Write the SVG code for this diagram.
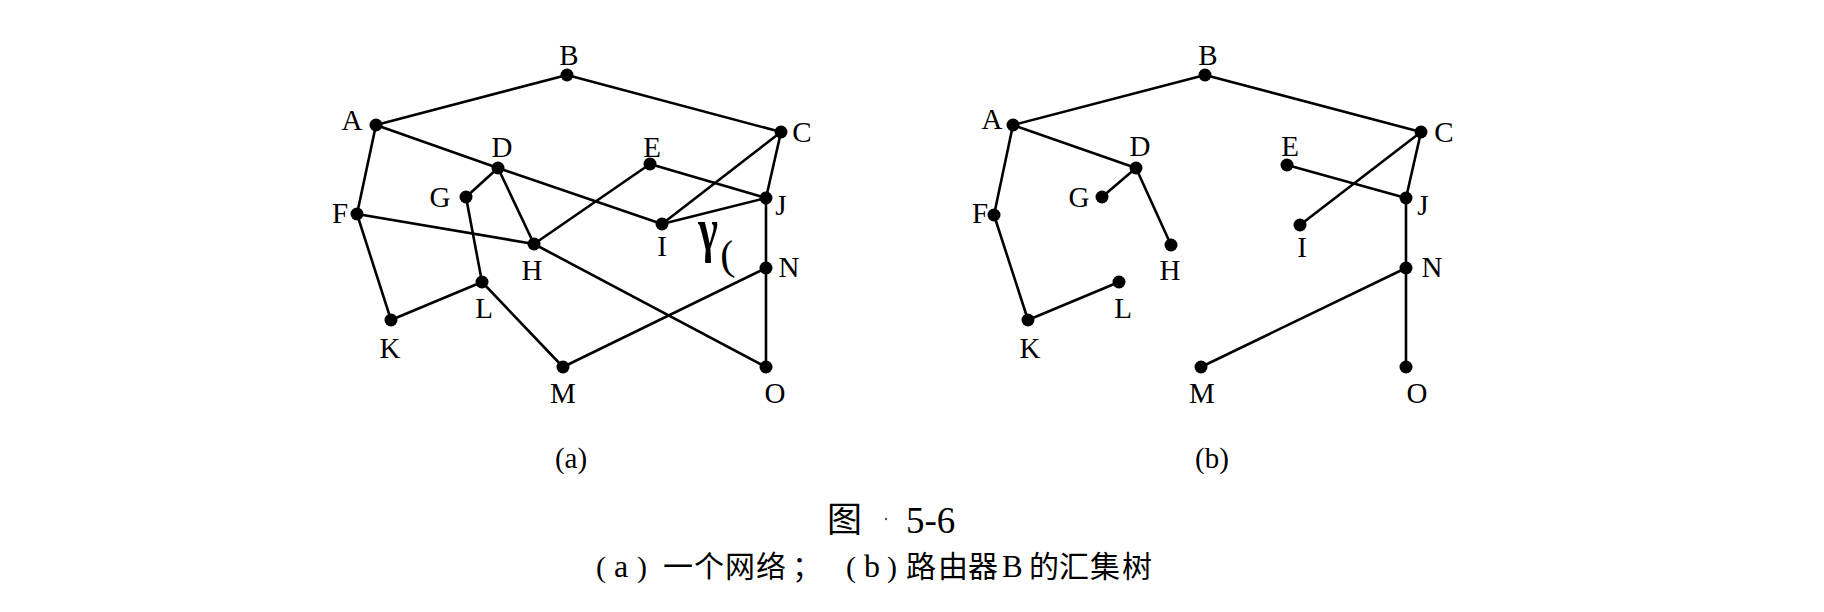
<svg xmlns="http://www.w3.org/2000/svg" width="1824" height="612" viewBox="0 0 1824 612">
<style>
.e{stroke:#000;stroke-width:2.6;fill:none;stroke-linecap:round}
.d{fill:#000}
.l{font-family:"Liberation Serif","Times New Roman",serif;font-size:29px;fill:#000;text-anchor:middle}
.s{font-family:"Liberation Serif","Times New Roman",serif;fill:#000}
.cjk{font-family:"Noto Sans CJK SC",sans-serif;fill:#000}
</style>
<rect width="1824" height="612" fill="#fff"/>
<g id="connectors-a">
<line class="e" x1="376" y1="125" x2="567" y2="75"/>
<line class="e" x1="567" y1="75" x2="781" y2="132"/>
<line class="e" x1="376" y1="125" x2="357" y2="214"/>
<line class="e" x1="376" y1="125" x2="498" y2="168"/>
<line class="e" x1="498" y1="168" x2="662" y2="224"/>
<line class="e" x1="498" y1="168" x2="466" y2="197"/>
<line class="e" x1="498" y1="168" x2="534" y2="244"/>
<line class="e" x1="466" y1="197" x2="482" y2="282"/>
<line class="e" x1="357" y1="214" x2="534" y2="244"/>
<line class="e" x1="357" y1="214" x2="391" y2="320"/>
<line class="e" x1="534" y1="244" x2="650" y2="164"/>
<line class="e" x1="534" y1="244" x2="766" y2="367"/>
<line class="e" x1="650" y1="164" x2="766" y2="198"/>
<line class="e" x1="781" y1="132" x2="662" y2="224"/>
<line class="e" x1="781" y1="132" x2="766" y2="198"/>
<line class="e" x1="662" y1="224" x2="766" y2="198"/>
<line class="e" x1="766" y1="198" x2="766" y2="268"/>
<line class="e" x1="766" y1="268" x2="766" y2="367"/>
<line class="e" x1="766" y1="268" x2="563" y2="367"/>
<line class="e" x1="482" y1="282" x2="563" y2="367"/>
<line class="e" x1="391" y1="320" x2="482" y2="282"/>
</g>
<g id="connectors-b">
<line class="e" x1="1013" y1="125" x2="1205" y2="75"/>
<line class="e" x1="1205" y1="75" x2="1421" y2="132"/>
<line class="e" x1="1013" y1="125" x2="994" y2="215"/>
<line class="e" x1="1013" y1="125" x2="1136" y2="168"/>
<line class="e" x1="1136" y1="168" x2="1102" y2="197"/>
<line class="e" x1="1136" y1="168" x2="1171" y2="245"/>
<line class="e" x1="994" y1="215" x2="1028" y2="320"/>
<line class="e" x1="1028" y1="320" x2="1119" y2="282"/>
<line class="e" x1="1421" y1="132" x2="1300" y2="225"/>
<line class="e" x1="1421" y1="132" x2="1406" y2="198"/>
<line class="e" x1="1287" y1="165" x2="1406" y2="198"/>
<line class="e" x1="1406" y1="198" x2="1406" y2="268"/>
<line class="e" x1="1406" y1="268" x2="1406" y2="367"/>
<line class="e" x1="1406" y1="268" x2="1201" y2="367"/>
</g>
<g id="graph-a">
<g id="a-A"><circle class="d" cx="376" cy="125" r="6.5"/><text class="l" x="352" y="130">A</text></g>
<g id="a-B"><circle class="d" cx="567" cy="75" r="6.5"/><text class="l" x="569" y="65">B</text></g>
<g id="a-C"><circle class="d" cx="781" cy="132" r="6.5"/><text class="l" x="802" y="142">C</text></g>
<g id="a-D"><circle class="d" cx="498" cy="168" r="6.5"/><text class="l" x="502" y="157">D</text></g>
<g id="a-E"><circle class="d" cx="650" cy="164" r="6.5"/><text class="l" x="652" y="157">E</text></g>
<g id="a-F"><circle class="d" cx="357" cy="214" r="6.5"/><text class="l" x="340" y="223">F</text></g>
<g id="a-G"><circle class="d" cx="466" cy="197" r="6.5"/><text class="l" x="440" y="207">G</text></g>
<g id="a-H"><circle class="d" cx="534" cy="244" r="6.5"/><text class="l" x="532" y="280">H</text></g>
<g id="a-I"><circle class="d" cx="662" cy="224" r="6.5"/><text class="l" x="662" y="256">I</text></g>
<g id="a-J"><circle class="d" cx="766" cy="198" r="6.5"/><text class="l" x="781" y="215">J</text></g>
<g id="a-K"><circle class="d" cx="391" cy="320" r="6.5"/><text class="l" x="390" y="358">K</text></g>
<g id="a-L"><circle class="d" cx="482" cy="282" r="6.5"/><text class="l" x="484" y="318">L</text></g>
<g id="a-M"><circle class="d" cx="563" cy="367" r="6.5"/><text class="l" x="563" y="403">M</text></g>
<g id="a-N"><circle class="d" cx="766" cy="268" r="6.5"/><text class="l" x="789" y="277">N</text></g>
<g id="a-O"><circle class="d" cx="766" cy="367" r="6.5"/><text class="l" x="775" y="403">O</text></g>
<text class="l" x="571" y="468">(a)</text>
<text class="l" style="font-size:56px;font-weight:bold" transform="translate(708,250) scale(0.75,1.1)" x="0" y="0">γ</text>
<text class="s" style="font-size:42px" transform="translate(721,270) rotate(-4)" x="0" y="0">(</text>
</g>
<g id="graph-b">
<g id="b-A"><circle class="d" cx="1013" cy="125" r="6.5"/><text class="l" x="992" y="129">A</text></g>
<g id="b-B"><circle class="d" cx="1205" cy="75" r="6.5"/><text class="l" x="1208" y="65">B</text></g>
<g id="b-C"><circle class="d" cx="1421" cy="132" r="6.5"/><text class="l" x="1444" y="142">C</text></g>
<g id="b-D"><circle class="d" cx="1136" cy="168" r="6.5"/><text class="l" x="1140" y="156">D</text></g>
<g id="b-E"><circle class="d" cx="1287" cy="165" r="6.5"/><text class="l" x="1290" y="156">E</text></g>
<g id="b-F"><circle class="d" cx="994" cy="215" r="6.5"/><text class="l" x="980" y="223">F</text></g>
<g id="b-G"><circle class="d" cx="1102" cy="197" r="6.5"/><text class="l" x="1079" y="207">G</text></g>
<g id="b-H"><circle class="d" cx="1171" cy="245" r="6.5"/><text class="l" x="1170" y="280">H</text></g>
<g id="b-I"><circle class="d" cx="1300" cy="225" r="6.5"/><text class="l" x="1302" y="257">I</text></g>
<g id="b-J"><circle class="d" cx="1406" cy="198" r="6.5"/><text class="l" x="1423" y="215">J</text></g>
<g id="b-K"><circle class="d" cx="1028" cy="320" r="6.5"/><text class="l" x="1030" y="358">K</text></g>
<g id="b-L"><circle class="d" cx="1119" cy="282" r="6.5"/><text class="l" x="1123" y="318">L</text></g>
<g id="b-M"><circle class="d" cx="1201" cy="367" r="6.5"/><text class="l" x="1202" y="403">M</text></g>
<g id="b-N"><circle class="d" cx="1406" cy="268" r="6.5"/><text class="l" x="1432" y="277">N</text></g>
<g id="b-O"><circle class="d" cx="1406" cy="367" r="6.5"/><text class="l" x="1417" y="403">O</text></g>
<text class="l" x="1212" y="468">(b)</text>
</g>
<g id="caption">
<text class="cjk" x="827" y="532" font-size="35">图</text>
<circle cx="886" cy="519" r="1.2" fill="#555"/>
<text class="s" x="906" y="533" font-size="37">5-6</text>
<text font-size="30" y="577"><tspan class="s" x="596">(</tspan><tspan class="s" font-size="32" x="614">a</tspan><tspan class="s" x="637">)</tspan><tspan class="cjk" x="663 694 725 756 792">一个网络；</tspan><tspan class="s" x="846">(</tspan><tspan class="s" font-size="32" x="864">b</tspan><tspan class="s" x="887">)</tspan><tspan class="cjk" x="906 938 968">路由器</tspan><tspan class="s" font-size="31" x="1002">B</tspan><tspan class="cjk" x="1029 1059 1090 1122">的汇集树</tspan></text>
</g>
</svg>
